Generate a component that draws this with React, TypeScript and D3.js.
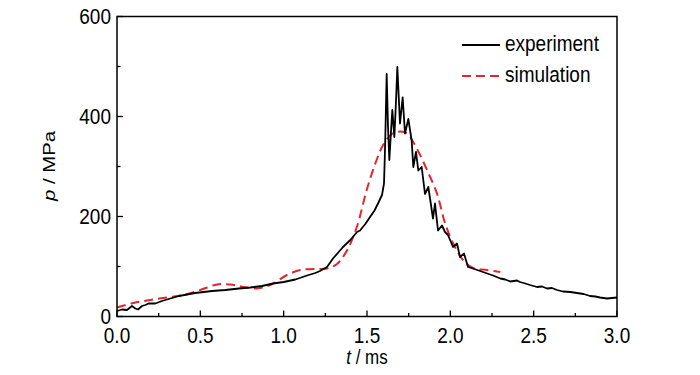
import React from "react";
import * as d3 from "d3";

const expT = [0, 0.03, 0.06, 0.09, 0.11, 0.126, 0.15, 0.17, 0.19, 0.23, 0.27, 0.32, 0.372, 0.42, 0.468, 0.52, 0.57, 0.65, 0.732, 0.8, 0.87, 0.936, 1.0, 1.07, 1.14, 1.19, 1.218, 1.26, 1.296, 1.338, 1.356, 1.4, 1.44, 1.458, 1.49, 1.518, 1.545, 1.566, 1.59, 1.602, 1.606, 1.61, 1.618, 1.626, 1.634, 1.644, 1.652, 1.664, 1.674, 1.682, 1.698, 1.714, 1.728, 1.748, 1.768, 1.778, 1.794, 1.808, 1.828, 1.848, 1.868, 1.896, 1.908, 1.926, 1.95, 1.968, 1.986, 2.016, 2.04, 2.058, 2.082, 2.106, 2.136, 2.17, 2.196, 2.23, 2.256, 2.3, 2.33, 2.36, 2.4, 2.418, 2.45, 2.478, 2.52, 2.55, 2.58, 2.61, 2.64, 2.676, 2.72, 2.76, 2.8, 2.838, 2.87, 2.898, 2.94, 2.97, 3.0];
const expP = [11, 14, 13, 21, 16, 14, 21, 23, 26, 26, 31, 36, 41, 44, 47, 49, 51, 53, 56, 58, 61, 66, 69, 74, 82, 87, 91, 99, 116, 132, 139, 153, 169, 172, 185, 199, 212, 226, 243, 266, 310, 360, 485, 380, 313, 370, 413, 359, 430, 499, 386, 438, 366, 395, 352, 299, 329, 292, 299, 245, 259, 196, 226, 172, 182, 169, 163, 139, 146, 119, 126, 99, 96, 92, 89, 85, 82, 76, 74, 70, 72, 69, 66, 63, 59, 60, 56, 57, 53, 50, 49, 47, 45, 41, 40, 38, 36, 37, 38];

const simT = [0, 0.1, 0.2, 0.3, 0.4, 0.5, 0.6, 0.68, 0.76, 0.84, 0.92, 1.02, 1.1, 1.18, 1.26, 1.32, 1.38, 1.44, 1.5, 1.56, 1.6, 1.65, 1.7, 1.74, 1.8, 1.86, 1.92, 1.968, 2.016, 2.076, 2.136, 2.22, 2.3];
const simP = [18, 27, 33, 38, 43, 53, 64, 64, 59, 56, 63, 83, 93, 95, 96, 105, 132, 180, 255, 315, 345, 365, 370, 366, 335, 293, 246, 187, 147, 113, 97, 93, 89];

const xMajor = [0, 0.5, 1.0, 1.5, 2.0, 2.5, 3.0];
const xMinor = [0.25, 0.75, 1.25, 1.75, 2.25, 2.75];
const yMajor = [0, 200, 400, 600];
const yMinor = [100, 300, 500];

const legendLabels = ["experiment", "simulation"];

export default function App() {
  const x = d3.scaleLinear().domain([0, 3]).range([117, 617]);
  const y = d3.scaleLinear().domain([0, 600]).range([316.5, 16.5]);

  const expData = expT.map((t, i) => [t, expP[i]] as [number, number]);
  const simData = simT.map((t, i) => [t, simP[i]] as [number, number]);

  const lineExp = d3.line<[number, number]>().x(d => x(d[0])).y(d => y(d[1]));
  const lineSim = d3
    .line<[number, number]>()
    .x(d => x(d[0]))
    .y(d => y(d[1]))
    .curve(d3.curveCatmullRom);

  const font = "Liberation Sans, Arial, sans-serif";
  const red = "#e3262d";
  const sy = 1.2;

  return (
    <svg
      width={700}
      height={375}
      style={{ position: "absolute", left: 0, top: 0, background: "#fff" }}
      fontFamily={font}
    >
      <rect width={700} height={375} fill="#fff" />
      {/* data */}
      <path d={lineSim(simData) || ""} fill="none" stroke={red} strokeWidth={2} strokeDasharray="9,5" />
      <path d={lineExp(expData) || ""} fill="none" stroke="#000" strokeWidth={1.8} strokeLinejoin="round" />

      {/* frame */}
      <rect x={x(0)} y={y(600)} width={x(3) - x(0)} height={y(0) - y(600)} fill="none" stroke="#000" strokeWidth={1.5} />

      {/* x ticks */}
      {xMajor.map(t => (
        <g key={"xm" + t}>
          <line x1={x(t)} x2={x(t)} y1={y(0)} y2={y(0) - 6} stroke="#000" strokeWidth={1.3} />
          <text
            transform={`translate(${x(t)},${y(0) + 26.5}) scale(1,${sy})`}
            textAnchor="middle"
            fontSize={19}
            fill="#000"
          >
            {d3.format(".1f")(t)}
          </text>
        </g>
      ))}
      {xMinor.map(t => (
        <line key={"xn" + t} x1={x(t)} x2={x(t)} y1={y(0)} y2={y(0) - 3.5} stroke="#000" strokeWidth={1.3} />
      ))}

      {/* y ticks */}
      {yMajor.map(v => (
        <g key={"ym" + v}>
          <line x1={x(0)} x2={x(0) + 6} y1={y(v)} y2={y(v)} stroke="#000" strokeWidth={1.3} />
          <text
            transform={`translate(${x(0) - 6},${y(v) + 7.5}) scale(1,${sy})`}
            textAnchor="end"
            fontSize={19}
            fill="#000"
          >
            {v}
          </text>
        </g>
      ))}
      {yMinor.map(v => (
        <line key={"yn" + v} x1={x(0)} x2={x(0) + 3.5} y1={y(v)} y2={y(v)} stroke="#000" strokeWidth={1.3} />
      ))}

      {/* axis titles */}
      <text transform={`translate(${x(1.5)},${364}) scale(1,${sy})`} textAnchor="middle" fontSize={17} fill="#000">
        <tspan fontStyle="italic">t</tspan> / ms
      </text>
      <text transform={`translate(${55},${166}) rotate(-90) scale(${sy},1)`} textAnchor="middle" fontSize={17} fill="#000">
        <tspan fontStyle="italic">p</tspan> / MPa
      </text>

      {/* legend */}
      <line x1={462} x2={500} y1={45} y2={45} stroke="#000" strokeWidth={1.8} />
      <text transform={`translate(505,51) scale(1,${sy})`} fontSize={19} fill="#000">{legendLabels[0]}</text>
      <line x1={462} x2={500} y1={76} y2={76} stroke={red} strokeWidth={2} strokeDasharray="9,5" />
      <text transform={`translate(505,82) scale(1,${sy})`} fontSize={19} fill="#000">{legendLabels[1]}</text>
    </svg>
  );
}
